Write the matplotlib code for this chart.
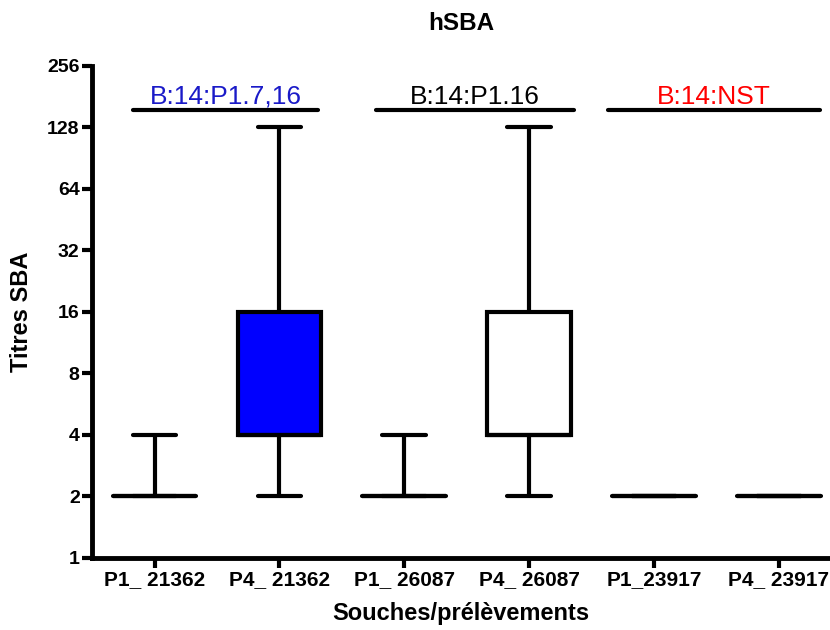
import matplotlib
matplotlib.use("Agg")
import matplotlib.pyplot as plt
from matplotlib import font_manager
from matplotlib.ticker import FixedLocator, FixedFormatter, NullLocator

# Sample groups (strain / sampling time)
categories = ["P1_ 21362", "P4_ 21362", "P1_ 26087", "P4_ 26087", "P1_23917", "P4_ 23917"]
whisker_low = [2, 2, 2, 2, 2, 2]
quartile_1 = [2, 4, 2, 4, 2, 2]
medians = [2, 4, 2, 4, 2, 2]
quartile_3 = [2, 16, 2, 16, 2, 2]
whisker_high = [4, 128, 4, 128, 2, 2]
box_colors = ["white", "#0000ff", "white", "white", "white", "white"]

# Strain annotations spanning pairs of boxes
strain_labels = ["B:14:P1.7,16", "B:14:P1.16", "B:14:NST"]
strain_colors = ["#1a1ac8", "black", "#ff0000"]
strain_spans = [(0.83, 2.31), (2.77, 4.36), (4.63, 6.33)]
strain_level = 156

y_ticks = [1, 2, 4, 8, 16, 32, 64, 128, 256]

available = {f.name for f in font_manager.fontManager.ttflist}
narrow = "Liberation Sans Narrow" if "Liberation Sans Narrow" in available else "Liberation Sans"
plt.rcParams["font.family"] = ["Liberation Sans", "DejaVu Sans"]

fig = plt.figure(figsize=(8.3, 6.3), dpi=100)
ax = fig.add_axes([0.111, 0.1143, 0.889, 0.7811])

lw = 3.0
stats = []
for i, name in enumerate(categories):
    stats.append(dict(label=name, whislo=whisker_low[i], q1=quartile_1[i], med=medians[i],
                      q3=quartile_3[i], whishi=whisker_high[i], fliers=[]))

positions = list(range(1, len(categories) + 1))
bp = ax.bxp(stats, positions=positions, widths=0.67, capwidths=0.35, patch_artist=True,
            showfliers=False,
            boxprops=dict(linewidth=lw, edgecolor="black"),
            whiskerprops=dict(linewidth=lw, color="black", solid_capstyle="butt"),
            capprops=dict(linewidth=lw, color="black", solid_capstyle="round"),
            medianprops=dict(linewidth=lw, color="black", solid_capstyle="round"))
for patch, c in zip(bp["boxes"], box_colors):
    patch.set_facecolor(c)
    patch.set_joinstyle("miter")

for (x0, x1), lab, col in zip(strain_spans, strain_labels, strain_colors):
    ax.hlines(strain_level, x0, x1, colors="black", linewidth=lw, capstyle="round")
    ax.text((x0 + x1) / 2, strain_level * 1.07, lab, color=col, fontsize=19,
            ha="center", va="baseline")

ax.set_yscale("log", base=2)
ax.set_ylim(1, 256)
ax.set_xlim(0.5, 6.41)
ax.yaxis.set_major_locator(FixedLocator(y_ticks))
ax.yaxis.set_major_formatter(FixedFormatter([str(v) for v in y_ticks]))
ax.yaxis.set_minor_locator(NullLocator())
ax.set_xticks(positions)
ax.set_xticklabels(categories, fontsize=15, fontweight="bold", family=[narrow, "DejaVu Sans"])

for lab in ax.get_yticklabels():
    lab.set_fontsize(14)
    lab.set_fontweight("bold")

ax.tick_params(axis="both", direction="out", length=7, width=3, color="black", pad=2)
for side in ("top", "right"):
    ax.spines[side].set_visible(False)
for side in ("left", "bottom"):
    ax.spines[side].set_linewidth(3.5)

ax.set_title("hSBA", fontsize=17.5, fontweight="bold", pad=26)
ax.set_ylabel("Titres SBA", fontsize=17, fontweight="bold", labelpad=10)
ax.set_xlabel("Souches/prélèvements", fontsize=17, fontweight="bold",
              family=[narrow, "DejaVu Sans"], labelpad=9)

fig.savefig("out.png", dpi=100)
